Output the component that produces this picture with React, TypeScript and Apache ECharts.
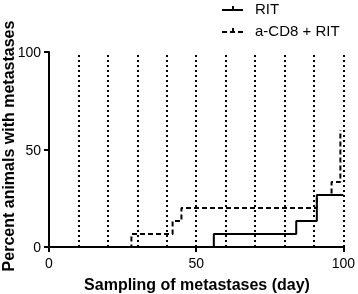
import React, { useEffect, useRef } from "react";
import * as echarts from "echarts";

const ritDays = [0, 56, 84, 91, 100];
const ritPercent = [0, 6.67, 13.33, 26.67, 26.67];
const cd8Days = [0, 28, 42, 45, 91, 96, 99];
const cd8Percent = [0, 6.67, 13.33, 20, 26.67, 33.33, 60];
const samplingDays = [10, 20, 30, 40, 50, 60, 70, 80, 90, 100];
const seriesNames = ["RIT", "a-CD8 + RIT"];
const xTitle = "Sampling of metastases (day)";
const yTitle = "Percent animals with metastases";

const FONT = "'Liberation Sans', Arial, sans-serif";

export default function App() {
  const ref = useRef<HTMLDivElement>(null);
  useEffect(() => {
    document.body.style.margin = "0";
    const chart = echarts.init(ref.current!, undefined, { renderer: "svg" });
    const axisCommon = {
      type: "value" as const,
      min: 0,
      max: 100,
      interval: 50,
      axisLine: { show: true, lineStyle: { color: "#000", width: 2 } },
      axisTick: { show: true, length: 5, lineStyle: { color: "#000", width: 2 } },
      axisLabel: { color: "#000", fontSize: 14, fontFamily: FONT, margin: 9 },
      splitLine: { show: false },
    };
    chart.setOption({
      animation: false,
      grid: { left: 49, right: 13, top: 52, bottom: 47 },
      xAxis: { ...axisCommon },
      yAxis: { ...axisCommon, axisLabel: { ...axisCommon.axisLabel, margin: 8 } },
      series: [
        {
          name: seriesNames[0],
          type: "line",
          step: "end",
          showSymbol: false,
          data: ritDays.map((d, i) => [d, ritPercent[i]]),
          lineStyle: { color: "#000", width: 2 },
          z: 3,
          markLine: {
            silent: true,
            symbol: "none",
            label: { show: false },
            lineStyle: { color: "#000", width: 2, type: [2, 3] },
            data: samplingDays.map((d) => ({ xAxis: d })),
          },
        },
        {
          name: seriesNames[1],
          type: "line",
          step: "end",
          showSymbol: false,
          data: cd8Days.map((d, i) => [d, cd8Percent[i]]),
          lineStyle: { color: "#000", width: 2, type: [5, 3] },
          z: 4,
        },
      ],
      graphic: [
        {
          type: "text",
          x: 8,
          y: 146,
          rotation: Math.PI / 2,
          style: {
            text: yTitle,
            fill: "#000",
            font: `bold 16px ${FONT}`,
            align: "center",
            verticalAlign: "middle",
          },
        },
        {
          type: "text",
          x: 197,
          y: 284,
          style: {
            text: xTitle,
            fill: "#000",
            font: `bold 16px ${FONT}`,
            align: "center",
            verticalAlign: "middle",
          },
        },
        { type: "line", shape: { x1: 222, y1: 10, x2: 243, y2: 10 }, style: { stroke: "#000", lineWidth: 2 } },
        { type: "line", shape: { x1: 233, y1: 6, x2: 233, y2: 10 }, style: { stroke: "#000", lineWidth: 2 } },
        { type: "line", shape: { x1: 222, y1: 32, x2: 243, y2: 32 }, style: { stroke: "#000", lineWidth: 2, lineDash: [5, 3] } },
        { type: "line", shape: { x1: 233, y1: 28, x2: 233, y2: 32 }, style: { stroke: "#000", lineWidth: 2 } },
        {
          type: "text",
          x: 255,
          y: 8,
          style: { text: seriesNames[0], fill: "#000", font: `15px ${FONT}`, verticalAlign: "middle" },
        },
        {
          type: "text",
          x: 255,
          y: 30,
          style: { text: seriesNames[1], fill: "#000", font: `15px ${FONT}`, verticalAlign: "middle" },
        },
      ],
    });
    return () => chart.dispose();
  }, []);
  return <div ref={ref} style={{ width: 358, height: 294, position: "fixed", left: 0, top: 0 }} />;
}
